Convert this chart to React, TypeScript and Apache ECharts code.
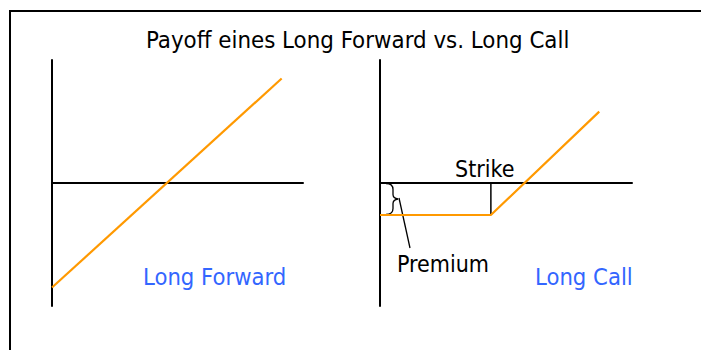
import React, { useEffect, useRef } from "react";
import * as echarts from "echarts";

const titleText = "Payoff eines Long Forward vs. Long Call";
const forwardPayoff: number[][] = [
  [0, -4.25],
  [9.15, 4.25],
];
const callPayoff: number[][] = [
  [0, -1.3],
  [4.4, -1.3],
  [8.7, 2.9],
];
const strikeLine: number[][] = [
  [4.4, 0],
  [4.4, -1.3],
];
const panelLabels = ["Long Forward", "Long Call"];
const annotationLabels = ["Strike", "Premium"];

const FONT = "'DejaVu Sans Condensed', 'DejaVu Sans', sans-serif";

echarts.graphic.registerShape(
  "brace",
  echarts.graphic.extendPath(
    "M0 0 C5 0 7 2 7 6 L7 11 C7 14 9 15 12 15.5 C9 16 7 17 7 20 L7 25 C7 29 5 31 0 31",
    {}
  )
);

export default function App() {
  const ref = useRef<HTMLDivElement>(null);
  useEffect(() => {
    if (!ref.current) return;
    const chart = echarts.init(ref.current, null, { renderer: "svg" });
    const axisCommon = {
      type: "value" as const,
      axisTick: { show: false },
      axisLabel: { show: false },
      splitLine: { show: false },
      axisLine: { show: true, onZero: true, lineStyle: { color: "#000", width: 2 } },
    };
    chart.setOption({
      animation: false,
      backgroundColor: "#fff",
      title: {
        text: titleText,
        left: 141,
        top: 23,
        textStyle: { fontFamily: FONT, fontSize: 23.8, fontWeight: "normal", color: "#000" },
      },
      grid: [
        { left: 52, top: 60, width: 251, height: 246 },
        { left: 380, top: 60, width: 252, height: 246 },
      ],
      xAxis: [
        { ...axisCommon, gridIndex: 0, min: 0, max: 10 },
        { ...axisCommon, gridIndex: 1, min: 0, max: 10 },
      ],
      yAxis: [
        { ...axisCommon, gridIndex: 0, min: -5, max: 5 },
        { ...axisCommon, gridIndex: 1, min: -5, max: 5 },
      ],
      series: [
        {
          type: "line",
          xAxisIndex: 0,
          yAxisIndex: 0,
          data: forwardPayoff,
          symbol: "none",
          lineStyle: { color: "#ff9900", width: 2.2 },
          z: 3,
        },
        {
          type: "line",
          xAxisIndex: 1,
          yAxisIndex: 1,
          data: strikeLine,
          symbol: "none",
          lineStyle: { color: "#000", width: 1.5 },
          z: 2,
        },
        {
          type: "line",
          xAxisIndex: 1,
          yAxisIndex: 1,
          data: callPayoff,
          symbol: "none",
          lineStyle: { color: "#ff9900", width: 2.2 },
          z: 3,
        },
      ],
      graphic: [
        {
          type: "rect",
          shape: { x: 10, y: 11, width: 760, height: 400 },
          style: { fill: "none", stroke: "#000", lineWidth: 2 },
          silent: true,
        },
        {
          type: "brace",
          x: 386,
          y: 183.5,
          style: { fill: "none", stroke: "#000", lineWidth: 1.3 },
        },
        {
          type: "line",
          shape: { x1: 399, y1: 198, x2: 410, y2: 248 },
          style: { stroke: "#000", lineWidth: 1.3 },
        },
        {
          type: "text",
          x: 143,
          y: 265,
          style: { text: panelLabels[0], font: `23.6px ${FONT}`, fill: "#3366ff" },
        },
        {
          type: "text",
          x: 535,
          y: 265,
          style: { text: panelLabels[1], font: `23.6px ${FONT}`, fill: "#3366ff" },
        },
        {
          type: "text",
          x: 455,
          y: 157,
          style: { text: annotationLabels[0], font: `23px ${FONT}`, fill: "#000" },
        },
        {
          type: "text",
          x: 397,
          y: 252,
          style: { text: annotationLabels[1], font: `23px ${FONT}`, fill: "#000" },
        },
      ],
    });
    return () => chart.dispose();
  }, []);
  return (
    <div
      ref={ref}
      style={{ position: "fixed", left: 0, top: 0, width: 701, height: 350 }}
    />
  );
}
